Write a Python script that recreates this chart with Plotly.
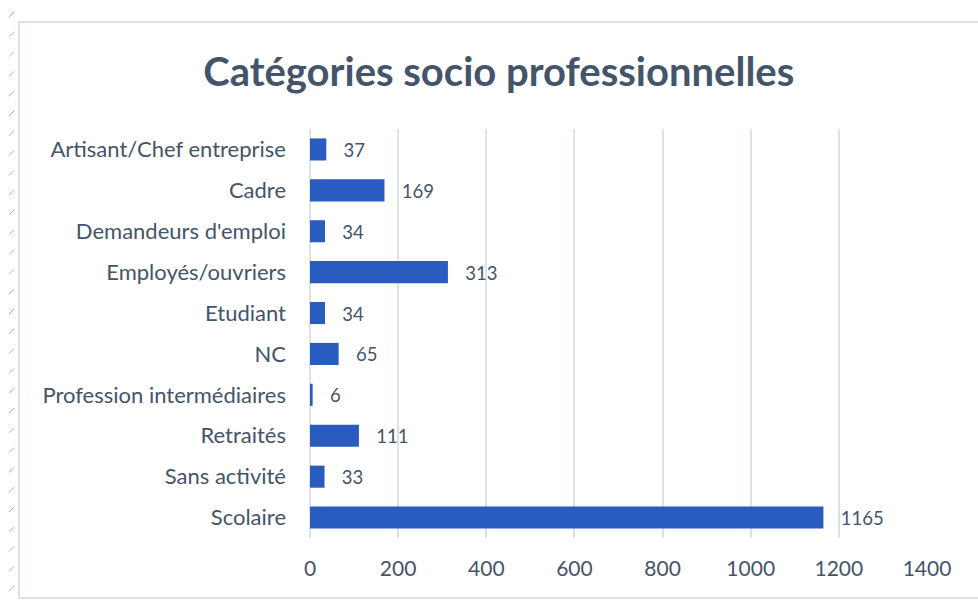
import plotly.graph_objects as go

categories = [
    "Artisant/Chef entreprise",
    "Cadre",
    "Demandeurs d'emploi",
    "Employés/ouvriers",
    "Etudiant",
    "NC",
    "Profession intermédiaires",
    "Retraités",
    "Sans activité",
    "Scolaire",
]
counts = [37, 169, 34, 313, 34, 65, 6, 111, 33, 1165]
tick_values = [0, 200, 400, 600, 800, 1000, 1200, 1400]

TEXT = "#44546A"
FONT = "Lato, Carlito, Calibri, sans-serif"

# plot area in pixels, used to place the decorative frame
PX0, PX1, PY0, PY1 = 310, 927, 129, 538


def px_to_paper_x(px):
    return (px - PX0) / (PX1 - PX0)


def px_to_paper_y(py):
    return (PY1 - py) / (PY1 - PY0)


fig = go.Figure()
fig.add_trace(
    go.Bar(
        x=counts,
        y=categories,
        orientation="h",
        width=0.54,
        marker=dict(color="#2A5CBF", line=dict(width=0)),
        text=["\u00a0\u00a0\u00a0" + str(v) for v in counts],
        textposition="outside",
        textfont=dict(size=21, color=TEXT, family=FONT),
        cliponaxis=False,
    )
)

shapes = [
    dict(
        type="rect",
        xref="paper",
        yref="paper",
        x0=px_to_paper_x(19),
        x1=px_to_paper_x(990),
        y0=px_to_paper_y(598),
        y1=px_to_paper_y(22),
        line=dict(color="#DDE1E8", width=2),
        layer="below",
    )
]
# little green tick marks down the left edge
for i in range(30):
    py = 14 + i * 19.8
    shapes.append(
        dict(
            type="line",
            xref="paper",
            yref="paper",
            x0=px_to_paper_x(9),
            x1=px_to_paper_x(14),
            y0=px_to_paper_y(py + 3),
            y1=px_to_paper_y(py - 2),
            line=dict(color="#9DBB86", width=1),
        )
    )

fig.update_layout(
    width=978,
    height=601,
    margin=dict(l=PX0, r=978 - PX1, t=PY0, b=601 - PY1, autoexpand=False),
    paper_bgcolor="white",
    plot_bgcolor="white",
    showlegend=False,
    font=dict(family=FONT, color=TEXT),
    title=dict(
        text="<b>Catégories socio professionnelles</b>",
        x=0.51,
        xanchor="center",
        y=0.88,
        yanchor="middle",
        font=dict(size=40, color=TEXT, family=FONT),
    ),
    xaxis=dict(
        range=[0, 1400],
        tickvals=tick_values,
        showgrid=True,
        gridcolor="#DDE1E8",
        gridwidth=2,
        zeroline=True,
        zerolinecolor="#DDE1E8",
        zerolinewidth=2,
        showline=False,
        tickfont=dict(size=21, color=TEXT),
        ticklen=0,
        ticklabelstandoff=16,
    ),
    yaxis=dict(
        autorange="reversed",
        showgrid=False,
        showline=False,
        tickfont=dict(size=22, color=TEXT),
        ticks="",
        ticklabelstandoff=23,
    ),
    bargap=0.46,
    shapes=shapes,
)

fig.write_html(
    "out.html",
    config={"displayModeBar": False},
    post_script="document.body.style.margin='0';",
)
